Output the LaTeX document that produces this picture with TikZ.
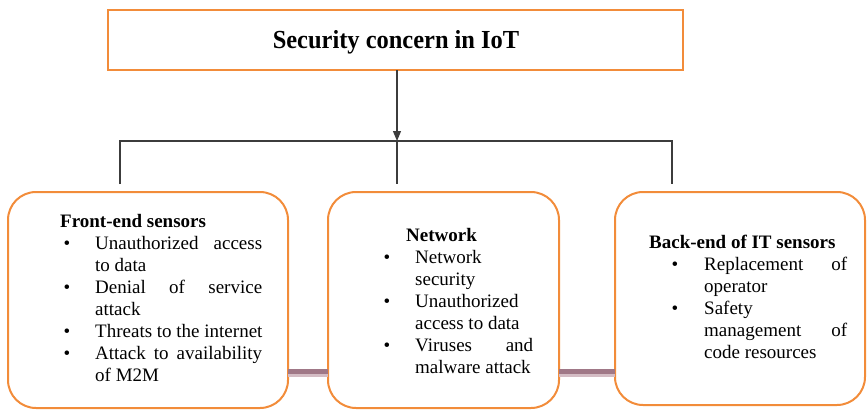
\documentclass[tikz,border=0pt]{standalone}
\usepackage{fontspec}
\setmainfont{Liberation Serif}
\usetikzlibrary{arrows.meta}
\definecolor{boxorange}{RGB}{242,140,58}
\definecolor{linkdark}{RGB}{160,120,135}
\definecolor{linklight}{RGB}{212,188,196}
\definecolor{conn}{RGB}{60,60,60}
\tikzset{
  rbox/.style={draw=boxorange, line width=2pt, rounded corners=28pt, rectangle, outer sep=0pt, inner sep=0pt, anchor=north west},
  tbox/.style={draw=boxorange, line width=2.5pt, rectangle, outer sep=0pt, inner sep=0pt, anchor=north west},
  txt/.style={font=\fontsize{19}{22}\selectfont, inner sep=0pt, anchor=base west},
  bul/.style={font=\fontsize{19}{22}\selectfont, inner sep=0pt, anchor=base},
  ttl/.style={font=\fontsize{19}{22}\selectfont\bfseries, inner sep=0pt, anchor=base west},
  conline/.style={draw=conn, line width=1.1pt},
}
\begin{document}
\begin{tikzpicture}[x=1pt,y=-1pt]
\useasboundingbox (0,0) rectangle (868,410);
% top box
\node[tbox, minimum width=575pt, minimum height=60pt] (T) at (108,10) {};
\node[font=\fontsize{26}{30}\selectfont\bfseries, inner sep=0pt, anchor=base] (Tt) at (396,48.5) {\scalebox{0.94}[1]{Security concern in IoT}};
% boxes
\node[rbox, minimum width=280pt, minimum height=216pt] (L) at (8,192) {};
\node[rbox, minimum width=231pt, minimum height=216pt] (M) at (328,192) {};
\node[rbox, minimum width=250pt, minimum height=213pt] (R) at (615,192) {};
% connectors
\coordinate (j) at (397,141);
\coordinate (ja) at (120,141);
\coordinate (jc) at (672,141);
\coordinate (la) at (120,184);
\coordinate (lb) at (397,184);
\coordinate (lc) at (672,184);
\draw[conline, -{Triangle[width=8pt,length=10pt]}] (T.south -| j) -- (j);
\draw[conline] (la) -- (ja) -- (jc) -- (lc);
\draw[conline] (j) -- (lb);
% pink links
\draw[linklight, line width=3pt] (L.east |- 0,375.5) -- (M.west |- 0,375.5);
\draw[linkdark, line width=4.5pt] (L.east |- 0,371.5) -- (M.west |- 0,371.5);
\draw[linklight, line width=3pt] (M.east |- 0,375.5) -- (R.west |- 0,375.5);
\draw[linkdark, line width=4.5pt] (M.east |- 0,371.5) -- (R.west |- 0,371.5);
% left text
\node[ttl] (l0) at (60,227) {Front-end sensors};
\node[bul] (lb1) at (67,249) {•};
\node[txt] (l1) at (95,249) {\makebox[167pt][s]{Unauthorized access}};
\node[txt] (l2) at (95,271) {to data};
\node[bul] (lb3) at (67,293) {•};
\node[txt] (l3) at (95,293) {\makebox[167pt][s]{Denial of service}};
\node[txt] (l4) at (95,315) {attack};
\node[bul] (lb5) at (67,337) {•};
\node[txt] (l5) at (95,337) {Threats to the internet};
\node[bul] (lb6) at (67,359) {•};
\node[txt] (l6) at (95,359) {\makebox[167pt][s]{Attack to availability}};
\node[txt] (l7) at (95,381) {of M2M};
% middle text
\node[ttl] (m0) at (406,241) {Network};
\node[bul] (mb1) at (387,263) {•};
\node[txt] (m1) at (415,263) {Network};
\node[txt] (m2) at (415,285) {security};
\node[bul] (mb3) at (387,307) {•};
\node[txt] (m3) at (415,307) {Unauthorized};
\node[txt] (m4) at (415,329) {access to data};
\node[bul] (mb5) at (387,351) {•};
\node[txt] (m5) at (415,351) {\makebox[118pt][s]{Viruses and}};
\node[txt] (m6) at (415,373) {malware attack};
% right text
\node[ttl] (r0) at (649,248) {Back-end of IT sensors};
\node[bul] (rb1) at (675,270) {•};
\node[txt] (r1) at (704,270) {\makebox[143pt][s]{Replacement of}};
\node[txt] (r2) at (704,292) {operator};
\node[bul] (rb3) at (675,314) {•};
\node[txt] (r3) at (704,314) {Safety};
\node[txt] (r4) at (704,336) {\makebox[143pt][s]{management of}};
\node[txt] (r5) at (704,358) {code resources};
\end{tikzpicture}
\end{document}
